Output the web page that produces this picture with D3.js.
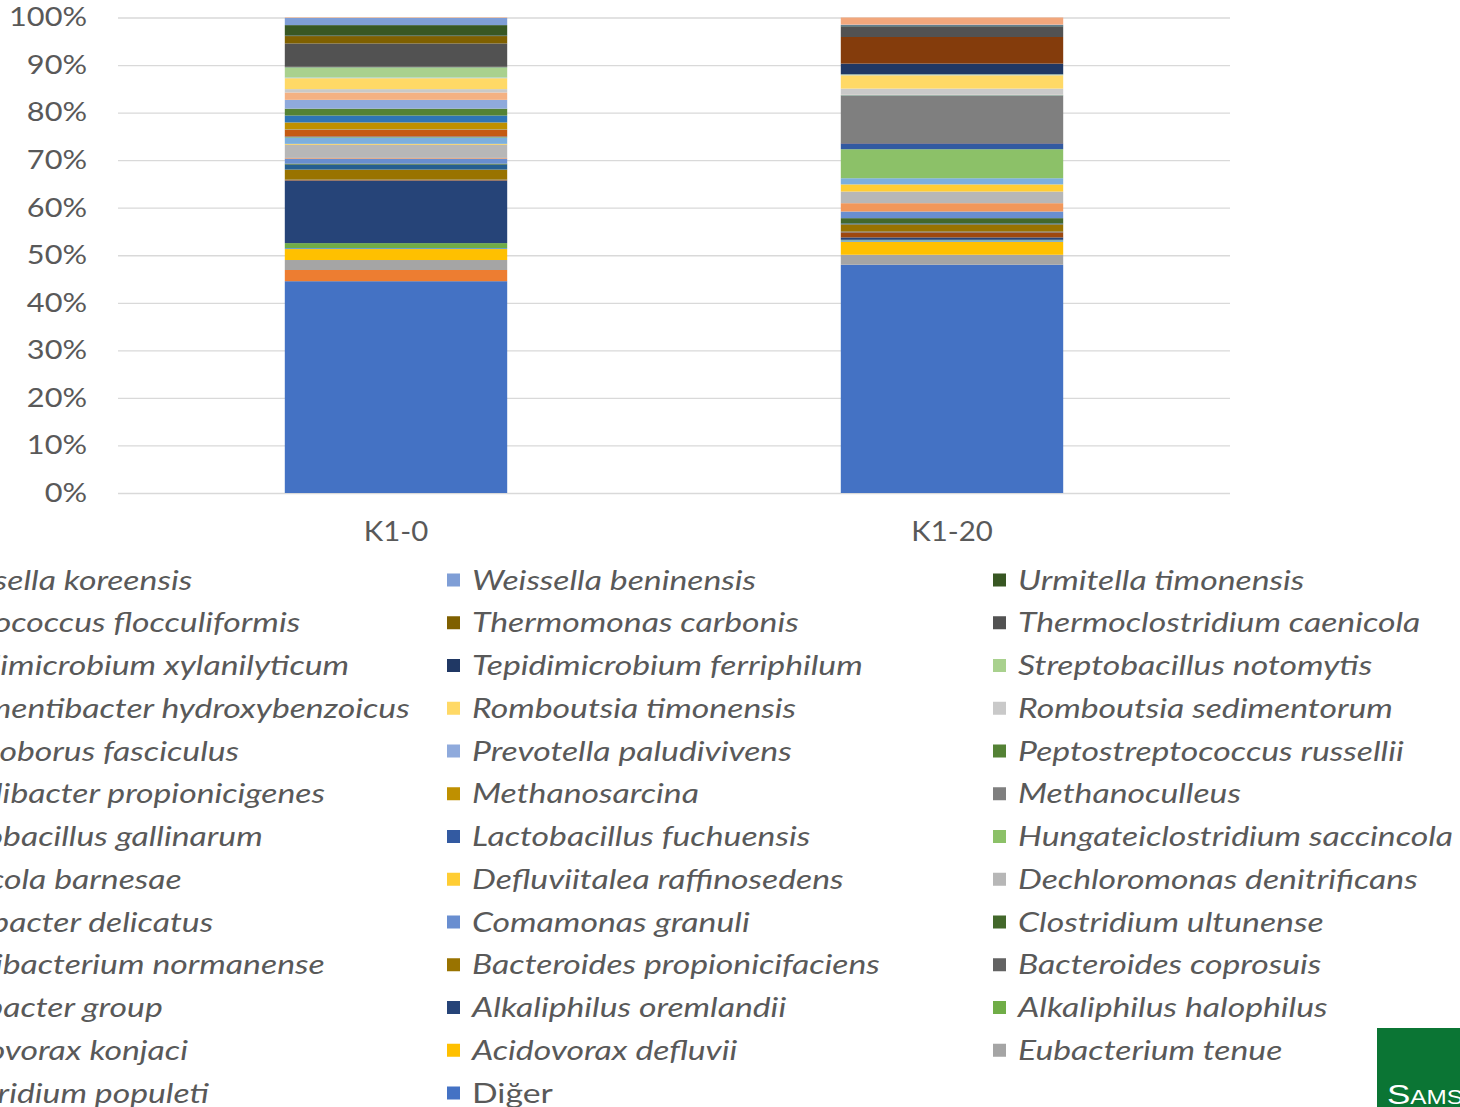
<!DOCTYPE html>
<html>
<head>
<meta charset="utf-8">
<script src="https://cdnjs.cloudflare.com/ajax/libs/d3/7.8.5/d3.min.js"></script>
<style>
  html, body { margin: 0; padding: 0; background: #ffffff; overflow: hidden; }
  svg { display: block; }
</style>
</head>
<body>
<svg id="chart" width="1460" height="1107"></svg>
<script>
// Sample groups (x categories)
const categories = ["K1-0", "K1-20"];

// Taxa in stacking order, bottom of the column first
const seriesNames = [
  "Diğer",
  "Clostridium populeti",
  "Eubacterium tenue",
  "Acidovorax defluvii",
  "Acidovorax konjaci",
  "Alkaliphilus halophilus",
  "Alkaliphilus oremlandii",
  "Pelobacter group",
  "Bacteroides coprosuis",
  "Bacteroides propionicifaciens",
  "Alkalibacterium normanense",
  "Clostridium ultunense",
  "Comamonas granuli",
  "Aerobacter delicatus",
  "Dechloromonas denitrificans",
  "Defluviitalea raffinosedens",
  "Gallicola barnesae",
  "Hungateiclostridium saccincola",
  "Lactobacillus fuchuensis",
  "Lactobacillus gallinarum",
  "Methanoculleus",
  "Methanosarcina",
  "Oscillibacter propionicigenes",
  "Peptostreptococcus russellii",
  "Prevotella paludivivens",
  "Aminoborus fasciculus",
  "Romboutsia sedimentorum",
  "Romboutsia timonensis",
  "Sedimentibacter hydroxybenzoicus",
  "Streptobacillus notomytis",
  "Tepidimicrobium ferriphilum",
  "Tepidimicrobium xylanilyticum",
  "Thermoclostridium caenicola",
  "Thermomonas carbonis",
  "Trichococcus flocculiformis",
  "Urmitella timonensis",
  "Weissella beninensis",
  "Weissella koreensis"
];

// Relative abundance (%) per taxon, same order as seriesNames
const valuesK10 = [
  44.5, 2.35, 2.1, 2.3, 0.2, 1.05, 13.15, 0.1, 0.1, 2.1,
  1.05, 0.2, 1.05, 0.15, 2.8, 0.15, 1.25, 0.15, 0.15, 1.4,
  0.1, 1.45, 1.45, 1.45, 1.85, 1.55, 0.7, 2.3, 0.15, 2.15,
  0.05, 0.05, 4.9, 1.55, 0.1, 2.2, 1.5, 0.1
];
const valuesK120 = [
  48.0, 0.0, 2.1, 2.75, 0.3, 0.1, 0.5, 1.05, 0.2, 1.5,
  0.2, 1.1, 1.4, 1.75, 2.45, 1.5, 1.3, 6.1, 1.25, 0.05,
  9.9, 0.05, 0.05, 0.05, 0.05, 0.05, 1.3, 2.8, 0.1, 0.1,
  2.25, 5.6, 2.1, 0.1, 0.25, 0.05, 0.1, 1.5
];

// Fill colour per taxon, same order as seriesNames
const seriesColors = [
  "#4472C4", "#ED7D31", "#A5A5A5", "#FFC000", "#5B9BD5", "#70AD47",
  "#264478", "#9E480E", "#636363", "#997300", "#255E91", "#43682B",
  "#698ED0", "#F1975A", "#B7B7B7", "#FFCD33", "#7CAFDD", "#8CC168",
  "#335AA1", "#C55A11", "#7F7F7F", "#BF9000", "#2E75B6", "#548235",
  "#8FAADC", "#F4B183", "#C9C9C9", "#FFD966", "#9DC3E6", "#A9D18E",
  "#203864", "#843C0C", "#525252", "#7F6000", "#1F4E79", "#385723",
  "#7F9ED6", "#F2A77C"
];

// Value axis ticks
const yTicks = [0, 0.1, 0.2, 0.3, 0.4, 0.5, 0.6, 0.7, 0.8, 0.9, 1.0];

const valuesByCategory = { "K1-0": valuesK10, "K1-20": valuesK120 };
const rows = categories.map(cat => {
  const row = { category: cat };
  seriesNames.forEach((name, i) => { row[name] = valuesByCategory[cat][i]; });
  return row;
});

const colorOf = d3.scaleOrdinal().domain(seriesNames).range(seriesColors);

const svg = d3.select("#chart");
const textColor = "#595959";
const fontFamily = "Lato, 'Open Sans', sans-serif";

svg.append("rect").attr("width", 1460).attr("height", 1107).attr("fill", "#ffffff");

// Plot area
const plot = { left: 118, right: 1230, top: 17.5, bottom: 493 };

const x = d3.scaleBand()
  .domain(categories)
  .range([plot.left, plot.right])
  .paddingInner(0.6)
  .paddingOuter(0.3);

const y = d3.scaleLinear().domain([0, 1]).range([plot.bottom, plot.top]);

// Gridlines
const grid = svg.append("g")
  .attr("transform", `translate(${plot.left},0)`)
  .call(d3.axisLeft(y).tickValues(yTicks).tickSize(-(plot.right - plot.left)).tickFormat(""));
grid.select(".domain").remove();
grid.selectAll(".tick line").attr("stroke", "#D9D9D9").attr("stroke-width", 1.3);

// Percentage labels (wide-set glyphs)
const yAxis = svg.append("g")
  .attr("transform", `translate(${plot.left},0)`)
  .call(d3.axisLeft(y).tickValues(yTicks).tickSize(0).tickFormat(d3.format(".0%")));
yAxis.select(".domain").remove();
yAxis.selectAll("text")
  .attr("x", 0)
  .attr("transform", "translate(-31,0) scale(1.18,1)")
  .attr("fill", textColor)
  .style("font-family", fontFamily)
  .style("font-size", "26px");

// Stacked columns normalised to 100%
const stacked = d3.stack().keys(seriesNames).offset(d3.stackOffsetExpand)(rows);

svg.append("g")
  .selectAll("g")
  .data(stacked)
  .join("g")
  .attr("fill", d => colorOf(d.key))
  .selectAll("rect")
  .data(d => d)
  .join("rect")
  .attr("x", d => x(d.data.category))
  .attr("width", x.bandwidth())
  .attr("y", d => y(d[1]))
  .attr("height", d => Math.max(0, y(d[0]) - y(d[1])));

// Category labels
const xAxis = svg.append("g")
  .attr("transform", `translate(0,${plot.bottom})`)
  .call(d3.axisBottom(x).tickSize(0).tickPadding(30));
xAxis.select(".domain").remove();
xAxis.selectAll("text")
  .attr("transform", "scale(1.13,1)")
  .attr("fill", textColor)
  .style("font-family", fontFamily)
  .style("font-size", "26px");

// Legend: top series first, three entries per row
const legendItems = seriesNames.slice().reverse();
const legendCols = [-74, 472, 1018];
const legendTop = 580;
const legendRowStep = 42.75;

const legend = svg.append("g").selectAll("g")
  .data(legendItems)
  .join("g")
  .attr("transform", (d, i) => `translate(${legendCols[i % 3]},${legendTop + Math.floor(i / 3) * legendRowStep})`);

legend.append("rect")
  .attr("x", -25).attr("y", -6.5)
  .attr("width", 13).attr("height", 13)
  .attr("fill", d => colorOf(d));

legend.append("text")
  .attr("x", 0)
  .attr("dy", "0.36em")
  .attr("transform", "scale(1.25,1)")
  .attr("fill", textColor)
  .style("font-family", fontFamily)
  .style("font-size", "27px")
  .style("font-style", d => d === "Diğer" ? "normal" : "italic")
  .text(d => d);

// Corner badge
svg.append("rect")
  .attr("x", 1377).attr("y", 1028)
  .attr("width", 90).attr("height", 90)
  .attr("fill", "#0B7534");
svg.append("text")
  .attr("x", 0).attr("y", 0)
  .attr("transform", "translate(1387,1104) scale(1.25,1)")
  .attr("fill", "#ffffff")
  .style("font-family", "'Liberation Sans', Arial, sans-serif")
  .style("font-size", "28px")
  .style("font-variant", "small-caps")
  .text("Samsun");
</script>
</body>
</html>
